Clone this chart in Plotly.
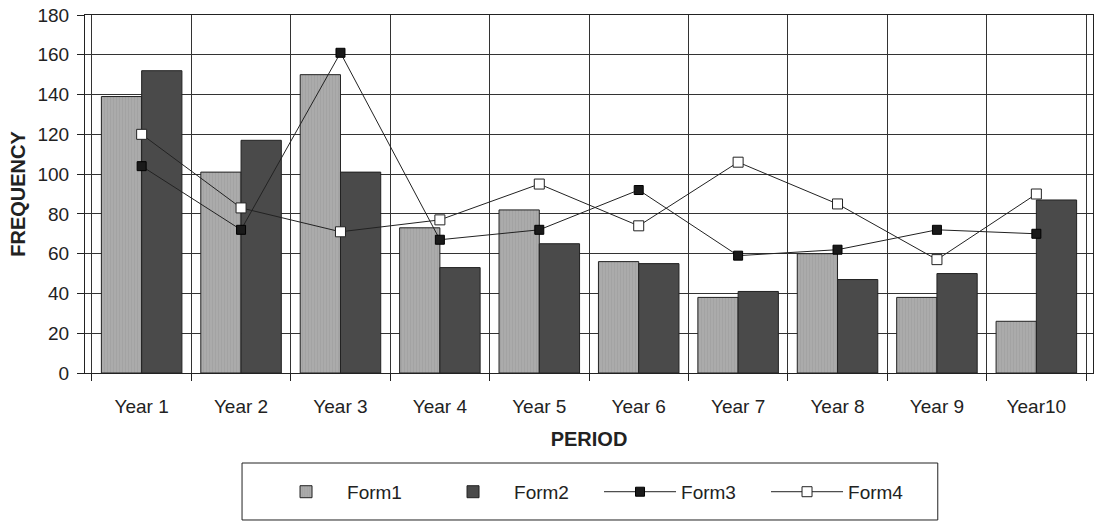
import plotly.graph_objects as go

# Chart data
periods = ["Year 1", "Year 2", "Year 3", "Year 4", "Year 5",
           "Year 6", "Year 7", "Year 8", "Year 9", "Year10"]
form1 = [139, 101, 150, 73, 82, 56, 38, 60, 38, 26]
form2 = [152, 117, 101, 53, 65, 55, 41, 47, 50, 87]
form3 = [104, 72, 161, 67, 72, 92, 59, 62, 72, 70]
form4 = [120, 83, 71, 77, 95, 74, 106, 85, 57, 90]
y_ticks = list(range(0, 181, 20))

FONT = "Liberation Sans, Arial, sans-serif"

fig = go.Figure()
fig.add_trace(go.Bar(
    x=periods, y=form1, name="Form1",
    marker=dict(color="#ababab", line=dict(color="#222222", width=1),
                pattern=dict(shape="|", fgcolor="#9a9a9a", size=3, solidity=0.3)),
))
fig.add_trace(go.Bar(
    x=periods, y=form2, name="Form2",
    marker=dict(color="#4a4a4a", line=dict(color="#222222", width=1)),
))
fig.add_trace(go.Scatter(
    x=periods, y=form3, name="Form3", mode="lines+markers",
    line=dict(color="#222222", width=1),
    marker=dict(symbol="square", size=9, color="#1a1a1a",
                line=dict(color="#000000", width=1)),
))
fig.add_trace(go.Scatter(
    x=periods, y=form4, name="Form4", mode="lines+markers",
    line=dict(color="#222222", width=1),
    marker=dict(symbol="square", size=10, color="#ffffff",
                line=dict(color="#222222", width=1)),
))

# Frame drawn around the legend
fig.add_shape(type="rect", xref="paper", yref="paper",
              x0=0.1558, x1=0.846, y0=-0.4106, y1=-0.2514,
              line=dict(color="#222222", width=1), fillcolor="rgba(0,0,0,0)")

fig.update_layout(
    width=1095, height=527,
    margin=dict(l=85, r=2, t=15, b=154),
    paper_bgcolor="white", plot_bgcolor="white",
    font=dict(family=FONT, size=19, color="#222222"),
    barmode="group", bargap=0.19, bargroupgap=0,
    showlegend=True,
    legend=dict(orientation="h", x=0.1786, xanchor="left",
                y=-0.332, yanchor="middle",
                font=dict(family=FONT, size=19, color="#222222"),
                entrywidth=80, entrywidthmode="pixels", itemwidth=72,
                bgcolor="rgba(0,0,0,0)", borderwidth=0, traceorder="normal"),
    xaxis=dict(
        title=dict(text="<b>PERIOD</b>", font=dict(family=FONT, size=20), standoff=16),
        tickson="boundaries", ticks="outside", ticklen=7, tickcolor="#222222",
        ticklabelstandoff=16,
        showgrid=True, gridcolor="#333333", gridwidth=1,
        showline=True, linecolor="#222222", linewidth=1, mirror=True,
        tickfont=dict(family=FONT, size=19),
    ),
    yaxis=dict(
        title=dict(text="<b>FREQUENCY</b>", font=dict(family=FONT, size=20), standoff=6),
        range=[0, 180], tickvals=y_ticks, ticks="outside", ticklen=7,
        ticklabelstandoff=4,
        tickcolor="#222222", showgrid=True, gridcolor="#333333", gridwidth=1,
        showline=True, linecolor="#222222", linewidth=1, mirror=True,
        zeroline=False, tickfont=dict(family=FONT, size=19),
    ),
)

fig.write_html("out.html")
